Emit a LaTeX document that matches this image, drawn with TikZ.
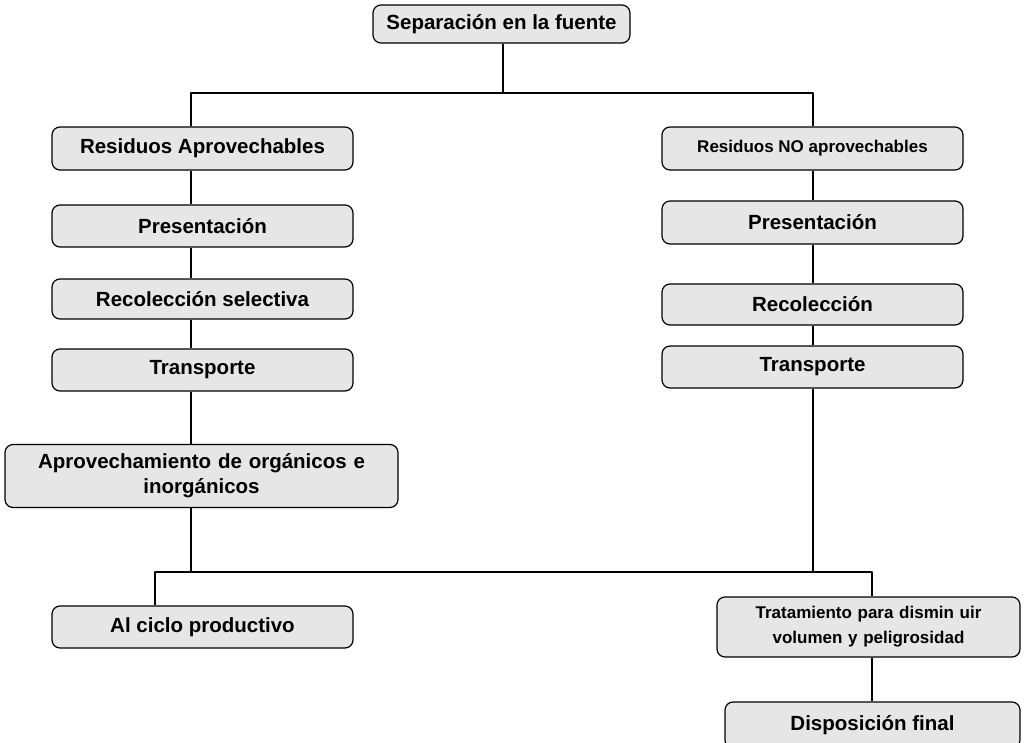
\documentclass[tikz,border=0pt]{standalone}
\usepackage{fontspec}
\setmainfont{Liberation Sans}
\definecolor{boxgray}{HTML}{E6E6E6}
\tikzset{
  caja/.style={draw=black, fill=boxgray, rounded corners=8pt, line width=1.2pt,
    minimum height=42pt, inner sep=2pt, align=center,
    font=\bfseries\fontsize{20.5}{25}\selectfont},
  cajachica/.style={caja, font=\bfseries\fontsize{17}{25}\selectfont},
  conn/.style={line width=2pt}
}
\begin{document}
\begin{tikzpicture}[x=1pt, y=-1pt, line join=round]
            \useasboundingbox (0,0) rectangle (1028,742);
            % cajas
            \node[caja, minimum width=257pt, minimum height=38pt] (sep) at (501.5,24) {Separación en la fuente};
            \node[caja, minimum width=301pt, minimum height=43pt] (resA) at (202.5,148.5) {Residuos Aprovechables};
            \node[caja, minimum width=301pt, minimum height=42pt] (presA) at (202.5,226) {Presentación};
            \node[caja, minimum width=301pt, minimum height=40pt] (recA) at (202.5,299) {Recolección selectiva};
            \node[caja, minimum width=301pt, minimum height=42pt] (traA) at (202.5,370) {Transporte};
            \node[caja, minimum width=393pt, minimum height=63pt, text width=385pt] (aprov) at (201.5,476) {Aprovechamiento de orgánicos e\\inorgánicos};
            \node[caja, minimum width=301pt, minimum height=42pt] (ciclo) at (202.5,627) {Al ciclo productivo};
            \node[cajachica, minimum width=301pt, minimum height=43pt] (resN) at (812.5,148.5) {Residuos NO aprovechables};
            \node[caja, minimum width=301pt, minimum height=43pt] (presN) at (812.5,222.5) {Presentación};
            \node[caja, minimum width=301pt, minimum height=41pt] (recN) at (812.5,304.5) {Recolección};
            \node[caja, minimum width=301pt, minimum height=42pt] (traN) at (812.5,367) {Transporte};
            \node[cajachica, minimum width=303pt, minimum height=60pt, text width=295pt] (trat) at (868.5,627) {Tratamiento para dismin uir\\volumen y peligrosidad};
            \node[caja, minimum width=295pt, minimum height=46pt] (disp) at (872.5,725) {Disposición final};
            % puntos de union
            \coordinate (top) at (503,93);
            \coordinate (colA) at (191,0);
            \coordinate (colN) at (813,0);
            \coordinate (jl) at (155,572);
            \coordinate (jr) at (872,572);
            % conectores
            \draw[conn] (sep.south -| top) -- (top);
            \draw[conn] (resA.north -| colA) |- (top) -| (resN.north -| colN);
            \foreach \a/\b in {resA/presA, presA/recA, recA/traA, traA/aprov}
              \draw[conn] (\a.south -| colA) -- (\b.north -| colA);
            \foreach \a/\b in {resN/presN, presN/recN, recN/traN}
              \draw[conn] (\a.south -| colN) -- (\b.north -| colN);
            \draw[conn] (aprov.south -| colA) -- (jl -| colA);
            \draw[conn] (traN.south -| colN) -- (jl -| colN);
            \draw[conn] (ciclo.north -| jl) -- (jl) -- (jr) -- (trat.north -| jr);
            \draw[conn] (trat.south -| jr) -- (disp.north -| jr);
\end{tikzpicture}
\end{document}
